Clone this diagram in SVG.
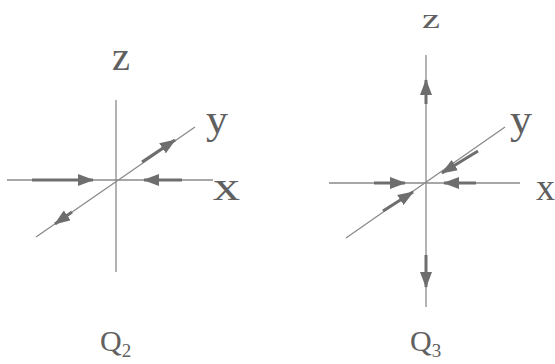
<svg xmlns="http://www.w3.org/2000/svg" width="555" height="364" viewBox="0 0 555 364">
<style>
.axis{stroke:#8a8a8a;stroke-width:1.3;fill:none}
.arr{stroke:#6e6e6e;stroke-width:3;fill:none;marker-end:url(#ah)}
.lbl{font-family:"Liberation Serif","Times New Roman",serif;font-size:40px;fill:#606060}
.q{font-family:"Liberation Serif","Times New Roman",serif;font-size:30px;fill:#606060}
.sub{font-size:19px}
</style>
<defs>
<marker id="ah" viewBox="0 0 16 12" refX="15" refY="6" markerWidth="16" markerHeight="12" orient="auto" markerUnits="userSpaceOnUse">
<path d="M0,0 L16,6 L0,12 Z" fill="#6e6e6e"/>
</marker>
</defs>
<rect width="555" height="364" fill="#ffffff"/>
<g id="q2">
<g class="axes">
<line class="axis" x1="116" y1="100" x2="116" y2="272"/>
<line class="axis" x1="7" y1="180" x2="213" y2="180"/>
<line class="axis" x1="36" y1="237" x2="195" y2="127"/>
</g>
<g class="arrows">
<line class="arr" x1="32" y1="180" x2="93" y2="180"/>
<line class="arr" x1="182" y1="180" x2="144" y2="180"/>
<line class="arr" x1="142" y1="162" x2="175" y2="140"/>
<line class="arr" x1="72" y1="212" x2="55" y2="224"/>
</g>
<text class="lbl" x="112" y="70" textLength="18" lengthAdjust="spacingAndGlyphs">z</text>
<text class="lbl" x="206" y="133" textLength="22" lengthAdjust="spacingAndGlyphs">y</text>
<text class="lbl" x="213" y="200" textLength="27" lengthAdjust="spacingAndGlyphs">x</text>
<text class="q" x="100" y="351">Q<tspan class="sub" dy="6">2</tspan></text>
</g>
<g id="q3">
<g class="axes">
<line class="axis" x1="426" y1="55" x2="426" y2="307"/>
<line class="axis" x1="329" y1="183" x2="520" y2="183"/>
<line class="axis" x1="346" y1="238" x2="505" y2="127"/>
</g>
<g class="arrows">
<line class="arr" x1="426" y1="104" x2="426" y2="80"/>
<line class="arr" x1="426" y1="255" x2="426" y2="287"/>
<line class="arr" x1="374" y1="183" x2="405" y2="183"/>
<line class="arr" x1="476" y1="183" x2="444" y2="183"/>
<line class="arr" x1="478" y1="151" x2="442" y2="173"/>
<line class="arr" x1="383" y1="211" x2="413" y2="192"/>
</g>
<text class="lbl" x="422" y="28" style="font-size:28px" textLength="18" lengthAdjust="spacingAndGlyphs">z</text>
<text class="lbl" x="510" y="133" textLength="22" lengthAdjust="spacingAndGlyphs">y</text>
<text class="lbl" x="536" y="200" style="font-size:38px" textLength="19" lengthAdjust="spacingAndGlyphs">x</text>
<text class="q" x="410" y="351">Q<tspan class="sub" dy="6">3</tspan></text>
</g>
</svg>
